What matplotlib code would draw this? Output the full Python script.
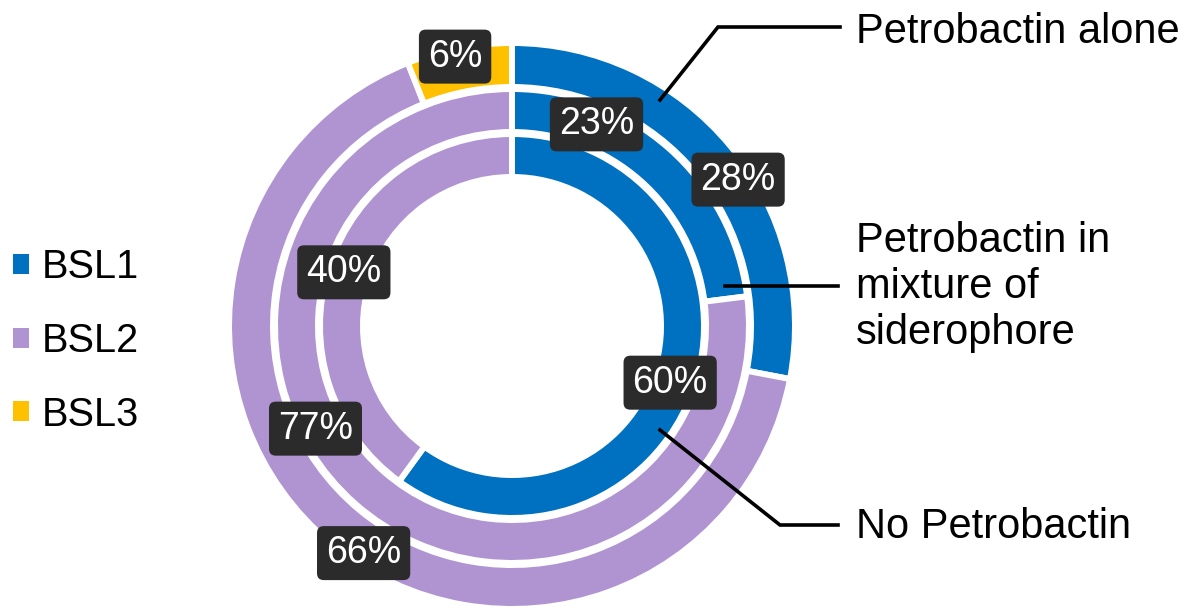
import numpy as np
import matplotlib
matplotlib.use("Agg")
import matplotlib.pyplot as plt
from matplotlib.patches import Patch

plt.rcParams['font.family'] = ['Liberation Sans', 'DejaVu Sans']

# data (percent), clockwise from 12 o'clock
categories = ['BSL1', 'BSL2', 'BSL3']
colors = ['#0070C0', '#B094D2', '#FFC000']
alone = [28, 66, 6]        # outer ring  - Petrobactin alone
mixture = [23, 77, 0]      # middle ring - Petrobactin in mixture of siderophore
no_petro = [60, 40, 0]     # inner ring  - No Petrobactin
ring_names = ['Petrobactin alone', 'Petrobactin in\nmixture of\nsiderophore', 'No Petrobactin']

# layout in pixel units (y up)
W, H = 1190, 607
cx, cy = 512, H - 326
lw_px = 6
rings = [(alone, 280, 38), (mixture, 234, 37), (no_petro, 189, 37)]

# manual label nudges (px), like dragged labels in the original
nudge = {(0, 0): (25, -20), (0, 1): (18, -26), (0, 2): (-8, 13),
         (1, 0): (-58, 40), (1, 1): (-54, 59),
         (2, 0): (-4, -4), (2, 1): (-6, 1)}

fig = plt.figure(figsize=(W / 100, H / 100), dpi=100)
ax = fig.add_axes([0, 0, 1, 1])

for ri, (vals, r_out, width) in enumerate(rings):
    idx = [i for i, v in enumerate(vals) if v > 0]
    v = [vals[i] for i in idx]
    ax.pie(v, colors=[colors[i] for i in idx], radius=r_out + lw_px / 2,
           center=(cx, cy), startangle=90, counterclock=False, frame=True,
           wedgeprops=dict(width=width + lw_px, edgecolor='white', linewidth=lw_px * 0.72))
    total = sum(v)
    start = 0.0
    r_mid = r_out - width / 2
    for i, val in zip(idx, v):
        mid = 90 - 360 * (start + val / 2) / total
        start += val
        dx, dy = nudge.get((ri, i), (0, 0))
        x = cx + r_mid * np.cos(np.radians(mid)) + dx
        y = cy + r_mid * np.sin(np.radians(mid)) + dy
        ax.text(x, y, f'{val}%', color='white', fontsize=27, ha='center', va='center',
                bbox=dict(boxstyle='round,pad=0.24,rounding_size=0.18',
                          facecolor='#2b2b2b', edgecolor='none'))

# leader lines and ring names
leaders = [[(660, 100), (718, 27), (840, 27)],
           [(725, 286), (838, 286)],
           [(660, 430), (780, 525), (838, 525)]]
name_y = [32, 287, 527]
for pts, name, ny in zip(leaders, ring_names, name_y):
    xs = [p[0] for p in pts]
    ys = [H - p[1] for p in pts]
    ax.plot(xs, ys, color='black', linewidth=2.6, solid_joinstyle='miter')
    ax.text(856, H - ny, name, fontsize=30, ha='left', va='center', linespacing=1.2)

handles = [Patch(facecolor=c, edgecolor='none') for c in colors]
ax.legend(handles, categories, loc='center left', bbox_to_anchor=(13, H - 341),
          bbox_transform=ax.transData, frameon=False, fontsize=28.5,
          handlelength=0.4, handleheight=0.4, handletextpad=0.33,
          labelspacing=0.9, borderpad=0, borderaxespad=0)

ax.set_xlim(0, W)
ax.set_ylim(0, H)
ax.set_aspect('equal')
ax.set_axis_off()

fig.savefig('out.png', dpi=100)
